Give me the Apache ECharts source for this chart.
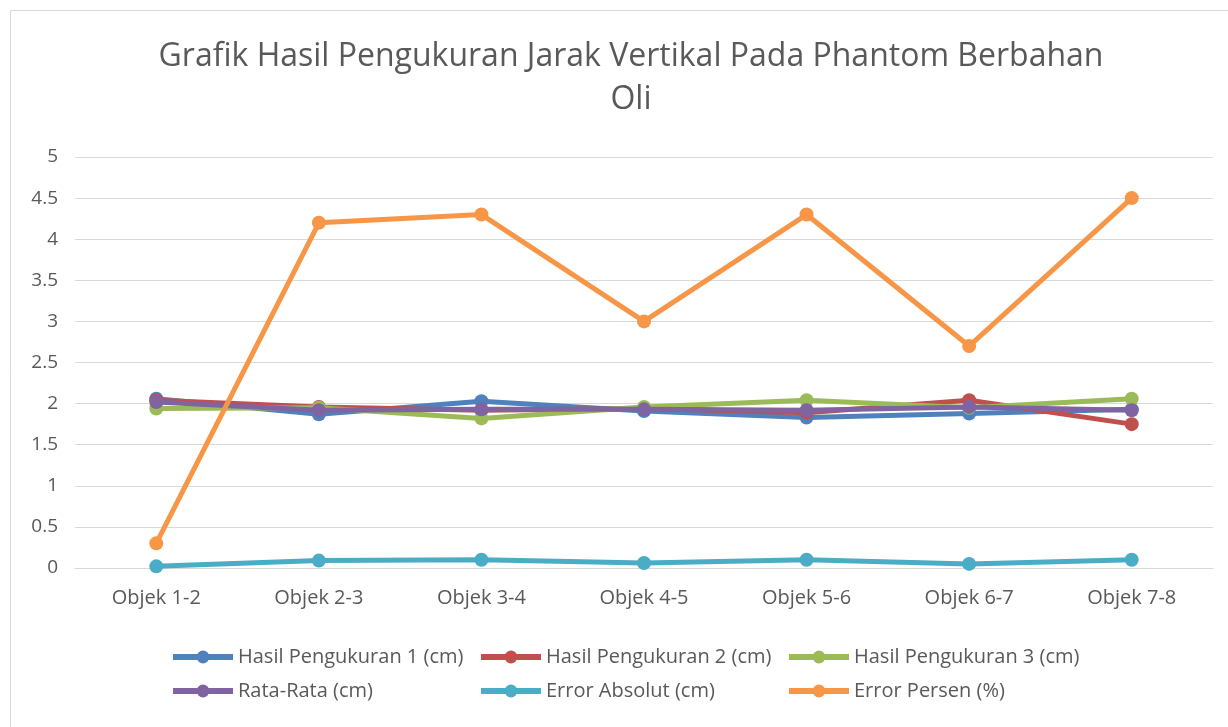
<!DOCTYPE html>
<html>
<head>
<meta charset="utf-8">
<script src="https://cdn.jsdelivr.net/npm/echarts@6/dist/echarts.min.js"></script>
<style>
html,body{margin:0;padding:0;background:#fff;}
#chart{width:1228px;height:727px;}
</style>
</head>
<body>
<div id="chart"></div>
<script>
const categories = ['Objek 1-2','Objek 2-3','Objek 3-4','Objek 4-5','Objek 5-6','Objek 6-7','Objek 7-8'];
const hasil1 = [2.06, 1.87, 2.03, 1.91, 1.83, 1.88, 1.93];
const hasil2 = [2.04, 1.96, 1.92, 1.94, 1.89, 2.04, 1.75];
const hasil3 = [1.94, 1.95, 1.82, 1.96, 2.04, 1.95, 2.06];
const rataRata = [2.02, 1.92, 1.93, 1.93, 1.92, 1.96, 1.92];
const errorAbsolut = [0.02, 0.09, 0.10, 0.06, 0.10, 0.05, 0.10];
const errorPersen = [0.3, 4.2, 4.3, 3.0, 4.3, 2.7, 4.5];
const seriesNames = ['Hasil Pengukuran 1 (cm)','Hasil Pengukuran 2 (cm)','Hasil Pengukuran 3 (cm)','Rata-Rata (cm)','Error Absolut (cm)','Error Persen (%)'];
const seriesData = [hasil1, hasil2, hasil3, rataRata, errorAbsolut, errorPersen];
const colors = ['#4F81BD','#C0504D','#9BBB59','#8064A2','#4BACC6','#F79646'];
const yTicks = {min: 0, max: 5, interval: 0.5};

const FONT = 'Open Sans';
const chart = echarts.init(document.getElementById('chart'));

const legendPos = [
  {left: 170, top: 647}, {left: 478, top: 647}, {left: 786, top: 647},
  {left: 170, top: 681}, {left: 478, top: 681}, {left: 786, top: 681}
];

chart.setOption({
  animation: false,
  color: colors,
  title: {
    text: 'Grafik Hasil Pengukuran Jarak Vertikal Pada Phantom Berbahan\nOli',
    left: 626, textAlign: 'center', top: 30,
    textStyle: {fontFamily: FONT, fontSize: 32, fontWeight: 'normal', color: '#595959', lineHeight: 43}
  },
  graphic: [{
    type: 'rect', silent: true,
    shape: {x: 10.5, y: 10.5, width: 1400, height: 1000},
    style: {fill: 'none', stroke: '#d9d9d9', lineWidth: 1}
  }],
  legend: seriesNames.map((n, i) => ({
    data: [n], left: legendPos[i].left, top: legendPos[i].top,
    padding: 0,
    itemWidth: 60, itemHeight: 16, itemGap: 6,
    lineStyle: {width: 6},
    textStyle: {fontFamily: FONT, fontSize: 20, color: '#595959'}
  })),
  grid: {left: 75, right: 15, top: 157, bottom: 159, containLabel: false},
  xAxis: {
    type: 'category', data: categories, boundaryGap: true,
    axisLine: {lineStyle: {color: '#d9d9d9'}},
    axisTick: {show: false},
    axisLabel: {fontFamily: FONT, fontSize: 20, color: '#595959', margin: 20}
  },
  yAxis: {
    type: 'value', min: yTicks.min, max: yTicks.max, interval: yTicks.interval,
    axisLine: {show: false}, axisTick: {show: false},
    splitLine: {lineStyle: {color: '#d9d9d9'}},
    axisLabel: {fontFamily: FONT, fontSize: 19, color: '#595959', margin: 17}
  },
  series: seriesNames.map((n, i) => ({
    name: n, type: 'line', data: seriesData[i],
    symbol: 'circle', symbolSize: 14,
    lineStyle: {width: 5, color: colors[i]},
    itemStyle: {color: colors[i]},
    z: 2 + i
  }))
});
</script>
</body>
</html>
